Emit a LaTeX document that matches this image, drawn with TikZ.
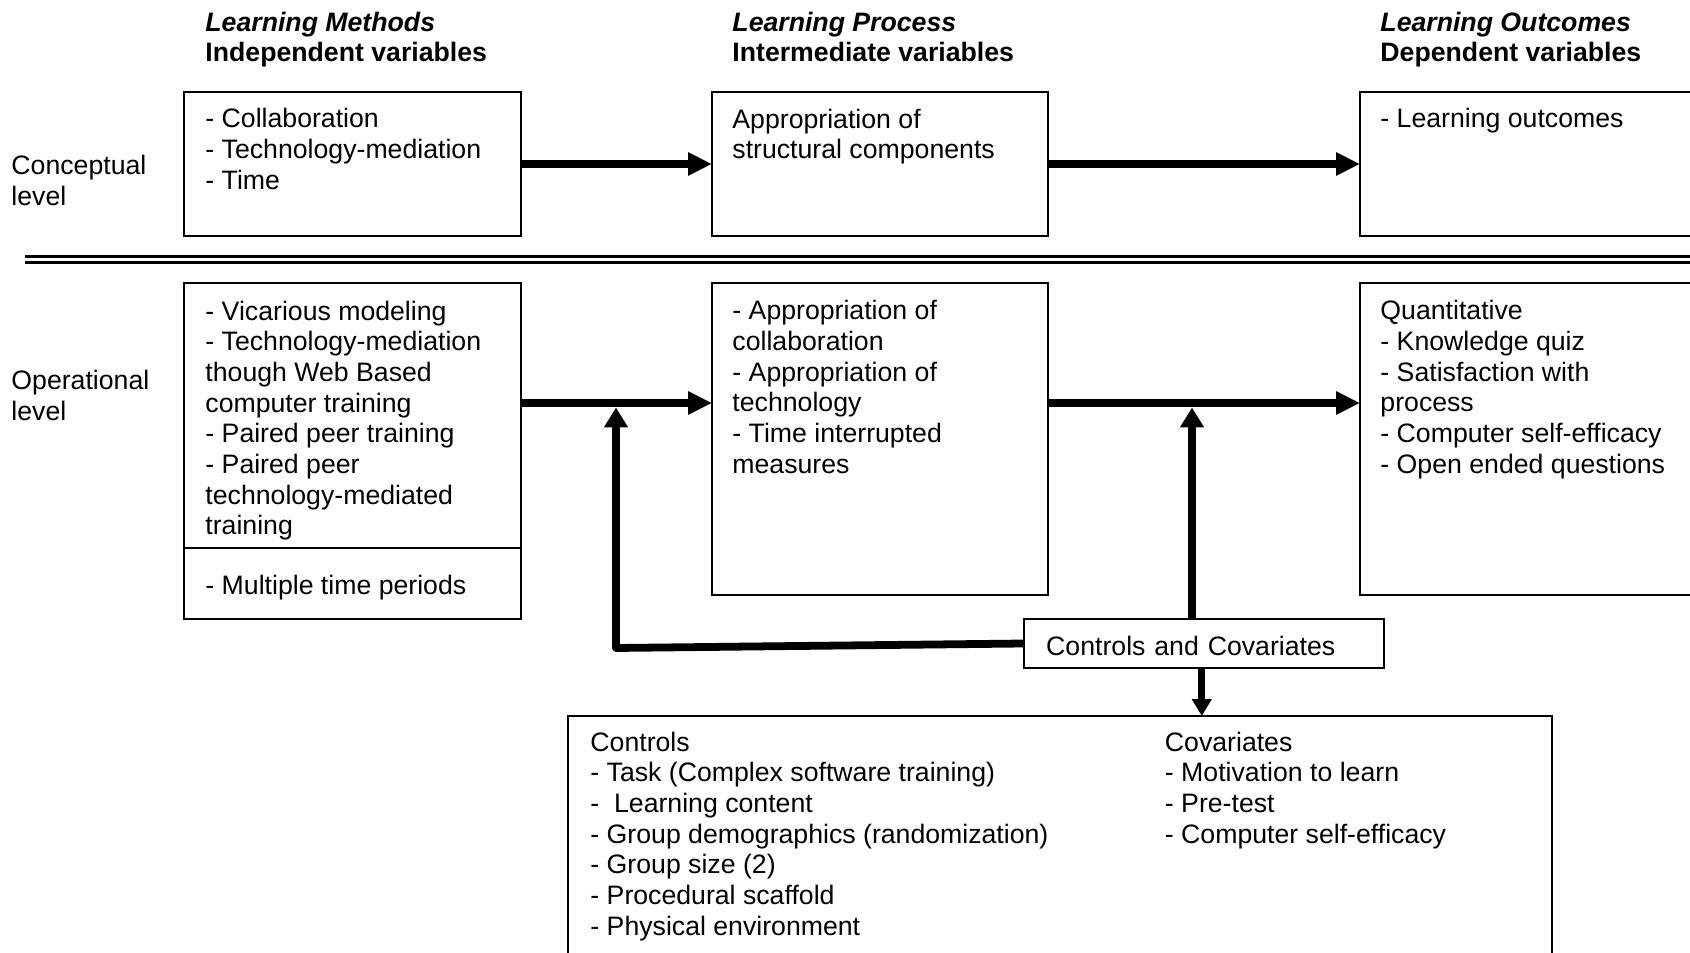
\documentclass[tikz,border=0pt]{standalone}
\usepackage{fontspec}
\setmainfont{Liberation Sans}
\usetikzlibrary{arrows.meta}
\begin{document}
\begin{tikzpicture}[x=0.45pt,y=-0.45pt,
  bx/.style={draw, line width=0.9pt, inner sep=0pt, outer sep=0pt, anchor=north west},
  tx/.style={anchor=base west, inner sep=0pt, align=left, font=\fontsize{12}{13.8}\selectfont},
  bigarrow/.style={line width=3.6pt, -{Triangle[length=10.8pt,width=9.9pt]}},
  uparrow/.style={line width=3.5pt, line join=round, -{Triangle[length=9pt,width=10.3pt]}},
  downarrow/.style={line width=3.1pt, -{Triangle[length=7.6pt,width=8.5pt]}},
  sep1/.style={line width=1.35pt},
  sep2/.style={line width=1.2pt}]
\useasboundingbox (0,0) rectangle (1690,953);
\clip (0,0) rectangle (1690,953);

% headers (anchor = baseline of last line)
\node[tx] (h1) at (205,62) {\textbf{\textit{Learning Methods}}\\\textbf{Independent variables}};
\node[tx] (h2) at (732,62) {\textbf{\textit{Learning Process}}\\\textbf{Intermediate variables}};
\node[tx] (h3) at (1380,62) {\textbf{\textit{Learning Outcomes}}\\\textbf{Dependent variables}};

% level labels
\node[tx] (lc) at (11,205.5) {Conceptual\\level};
\node[tx] (lo) at (11,420.5) {Operational\\level};

% conceptual boxes
\node[bx, minimum width=151.65pt, minimum height=64.8pt] (A1) at (184,92) {};
\node[bx, minimum width=151.2pt, minimum height=64.8pt] (B1) at (712,92) {};
\node[bx, minimum width=180pt, minimum height=64.8pt] (C1) at (1360,92) {};
\node[tx] (A1t) at (205,189.3) {- Collaboration\\- Technology-mediation\\- Time};
\node[tx] (B1t) at (732,158.7) {Appropriation of\\structural components};
\node[tx] (C1t) at (1380,128) {- Learning outcomes};

\draw[bigarrow] (A1.east) -- (B1.west);
\draw[bigarrow] (B1.east) -- (C1.west);

% separator
\draw[sep1] (25,256.8) -- (1700,256.8);
\draw[sep2] (25,262.7) -- (1700,262.7);

% operational boxes
\node[bx, minimum width=151.65pt, minimum height=119.25pt] (A2) at (184,283) {};
\node[bx, minimum width=151.65pt, minimum height=31.95pt] (A2b) at (184,548) {};
\node[bx, minimum width=151.2pt, minimum height=140.4pt] (B2) at (712,283) {};
\node[bx, minimum width=180pt, minimum height=140.4pt] (C2) at (1360,283) {};
\node[tx] (A2t) at (205,534.7) {- Vicarious modeling\\- Technology-mediation\\though Web Based\\computer training\\- Paired peer training\\- Paired peer\\technology-mediated\\training};
\node[tx] (A2bt) at (205,595) {- Multiple time periods};
\node[tx] (B2t) at (732,473.3) {- Appropriation of\\collaboration\\- Appropriation of\\technology\\- Time interrupted\\measures};
\node[tx] (C2t) at (1380,473.3) {Quantitative\\- Knowledge quiz\\- Satisfaction with\\process\\- Computer self-efficacy\\- Open ended questions};

\coordinate (oprow) at (0,403);
\draw[bigarrow] (A2.east |- oprow) -- (B2.west |- oprow);
\draw[bigarrow] (B2.east |- oprow) -- (C2.west |- oprow);

% controls
\node[bx, minimum width=162pt, minimum height=22.05pt, text width=142pt, align=left,
      inner xsep=9pt, text height=11pt, text depth=0pt,
      font=\fontsize{12}{13.8}\selectfont] (ctrl) at (1024,619) {Controls and Covariates};
\node[bx, minimum width=442.8pt, minimum height=127.8pt] (bot) at (568,716) {};
\node[tx] (bott1) at (590,935) {Controls\\- Task (Complex software training)\\-\ \ Learning content\\- Group demographics (randomization)\\- Group size (2)\\- Procedural scaffold\\- Physical environment};
\node[tx] (bott2) at (1164.5,843) {Covariates\\- Motivation to learn\\- Pre-test\\- Computer self-efficacy};

\coordinate (fbcorner) at (616,648);
\coordinate (fbtip) at (616,407.5);
\coordinate (uptip) at (1192,407.5);
\draw[uparrow] (ctrl.west) -- (fbcorner) -- (fbtip);
\draw[uparrow] (uptip |- ctrl.north) -- (uptip);
\draw[downarrow] ([xshift=-1pt]ctrl.south) -- ([xshift=-1pt]ctrl.south |- bot.north);
\end{tikzpicture}
\end{document}
